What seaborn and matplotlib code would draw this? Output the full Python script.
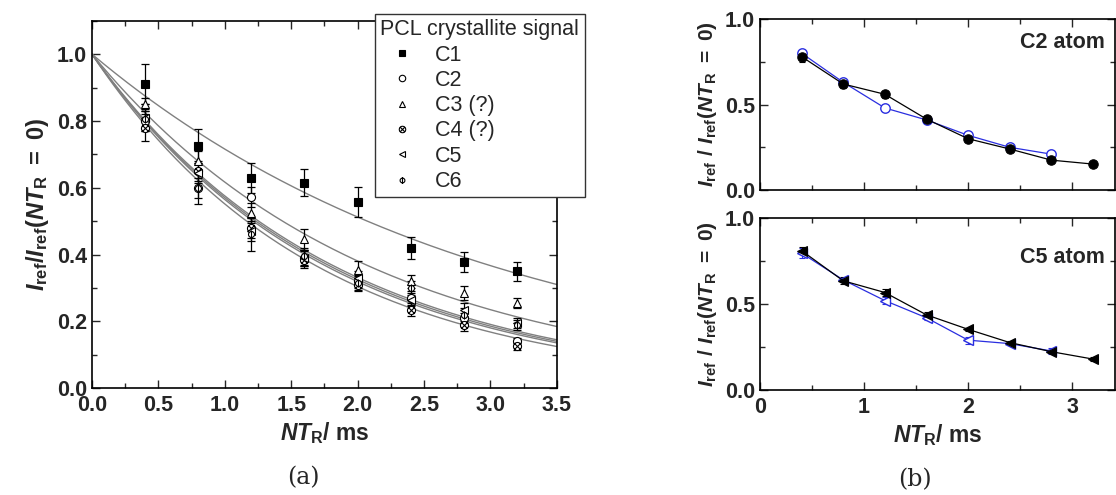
import numpy as np
import pandas as pd
import matplotlib
matplotlib.use('Agg')
import matplotlib.pyplot as plt
from matplotlib.path import Path
from matplotlib.ticker import MultipleLocator
import seaborn as sns

# ---- data ----
nt = [0.4, 0.8, 1.2, 1.6, 2.0, 2.4, 2.8, 3.2]

# panel (a): PCL crystallite signals
c1 = [0.91, 0.725, 0.628, 0.615, 0.556, 0.42, 0.377, 0.35]
c2 = [0.80, 0.60, 0.572, 0.39, 0.32, 0.27, 0.21, 0.14]
c3 = [0.85, 0.68, 0.525, 0.445, 0.355, 0.32, 0.285, 0.255]
c4 = [0.78, 0.65, 0.48, 0.385, 0.31, 0.235, 0.19, 0.125]
c5 = [0.81, 0.645, 0.47, 0.39, 0.33, 0.265, 0.235, 0.195]
c6 = [0.805, 0.60, 0.46, 0.395, 0.315, 0.30, 0.22, 0.19]
c1_err = [0.06, 0.05, 0.045, 0.04, 0.045, 0.033, 0.03, 0.028]
c2_err = [0.03, 0.03, 0.03, 0.025, 0.02, 0.02, 0.015, 0.01]
c3_err = [0.02, 0.03, 0.03, 0.03, 0.025, 0.02, 0.02, 0.015]
c4_err = [0.04, 0.03, 0.03, 0.025, 0.02, 0.02, 0.02, 0.01]
c5_err = [0.04, 0.03, 0.03, 0.025, 0.02, 0.02, 0.02, 0.015]
c6_err = [0.03, 0.05, 0.05, 0.025, 0.02, 0.02, 0.02, 0.015]
# decay constants of the grey fit curves (ms)
fit_tau = [2.99, 1.75, 2.07, 1.68, 1.78, 1.81]
labels_a = ['C1', 'C2', 'C3 (?)', 'C4 (?)', 'C5', 'C6']

# panel (b): single atoms, two samples
c2_black = [0.78, 0.62, 0.56, 0.415, 0.30, 0.24, 0.175, 0.152]
c2_black_err = [0.03, 0.025, 0.02, 0.015, 0.015, 0.01, 0.01, 0.01]
c2_blue = [0.80, 0.63, 0.48, 0.41, 0.32, 0.25, 0.21]
c2_blue_err = [0.015, 0.01, 0.015, 0.01, 0.01, 0.01, 0.01]
c5_black = [0.81, 0.635, 0.567, 0.437, 0.353, 0.276, 0.223, 0.18]
c5_black_err = [0.02, 0.02, 0.02, 0.015, 0.01, 0.01, 0.01, 0.01]
c5_blue = [0.796, 0.64, 0.52, 0.42, 0.29, 0.27, 0.227]
c5_blue_err = [0.03, 0.01, 0.02, 0.01, 0.02, 0.01, 0.015]

# ---- style ----
sns.set_style('ticks')
plt.rcParams['font.family'] = ['Liberation Sans', 'DejaVu Sans']
plt.rcParams['mathtext.fontset'] = 'custom'
plt.rcParams['mathtext.it'] = 'Liberation Sans:bold:italic'
plt.rcParams['mathtext.rm'] = 'Liberation Sans:bold'
plt.rcParams['mathtext.bf'] = 'Liberation Sans:bold'

BLUE = '#2a2ee0'
GREY = '#808080'
TICK_FS = 15.5

# custom markers: crossed circle, circle with a vertical bar
m_cross = Path.make_compound_path(
    Path.unit_circle(),
    Path([(-0.75, -0.75), (0.75, 0.75)]),
    Path([(-0.75, 0.75), (0.75, -0.75)]))
m_phi = Path.make_compound_path(
    Path.unit_circle(),
    Path([(0, -1.35), (0, 1.35)]))

fig = plt.figure(figsize=(11.16, 4.95), dpi=100)
ax = fig.add_axes([0.0824, 0.216, 0.4166, 0.742])
axb1 = fig.add_axes([0.681, 0.616, 0.318, 0.3456])
axb2 = fig.add_axes([0.681, 0.212, 0.318, 0.3476])


def style_axes(a):
    a.tick_params(which='both', direction='in', top=True, right=True,
                  width=1.0, labelsize=TICK_FS)
    a.tick_params(which='major', length=6)
    a.tick_params(which='minor', length=3.5)
    a.tick_params(axis='x', pad=5)
    for lab in a.get_xticklabels() + a.get_yticklabels():
        lab.set_fontweight('bold')
    for sp in a.spines.values():
        sp.set_linewidth(1.2)
        sp.set_color('black')


# ---- panel (a) ----
series = [c1, c2, c3, c4, c5, c6]
errs = [c1_err, c2_err, c3_err, c4_err, c5_err, c6_err]
markers = ['s', 'o', '^', m_cross, '<', m_phi]
filled = [True, False, False, False, False, False]

t_fit = np.linspace(0, 3.5, 200)
for tau in fit_tau:
    sns.lineplot(x=t_fit, y=np.exp(-t_fit / tau), color=GREY, lw=1.0, ax=ax)

handles = []
for y, e, m, f, lab in zip(series, errs, markers, filled, labels_a):
    ax.errorbar(nt, y, yerr=e, fmt='none', ecolor='black', elinewidth=0.9,
                capsize=3, capthick=0.9, zorder=3)
    sns.lineplot(x=nt, y=y, marker=m, linestyle='', color='black',
                 markersize=5.8, markeredgecolor='black', markeredgewidth=0.8,
                 markerfacecolor='black' if f else 'white', ax=ax, zorder=4)
    handles.append(ax.lines[-1])

ax.set_xticks([0, 0.5, 1.0, 1.5, 2.0, 2.5, 3.0, 3.5])
ax.set_xticklabels(['0.0', '0.5', '1.0', '1.5', '2.0', '2.5', '3.0', '3.5'])
ax.set_yticks([0, 0.2, 0.4, 0.6, 0.8, 1.0])
ax.set_yticklabels(['0.0', '0.2', '0.4', '0.6', '0.8', '1.0'])
ax.xaxis.set_minor_locator(MultipleLocator(0.25))
ax.yaxis.set_minor_locator(MultipleLocator(0.1))
ax.set_xlim(0, 3.5)
ax.set_ylim(0, 1.1)
style_axes(ax)
ax.set_xlabel(r'$NT_{\mathrm{R}}$/ ms', fontsize=16.5, fontweight='bold', labelpad=3)
ax.set_ylabel(r'$I_{\mathrm{ref}}/I_{\mathrm{ref}}(NT_{\mathrm{R}}\ \mathrm{=\ 0})$',
              fontsize=17, labelpad=4)

leg = fig.legend(handles, labels_a, title='PCL crystallite signal',
                 loc='upper left', bbox_to_anchor=(0.336, 0.972),
                 fontsize=15.5, title_fontsize=15.5, frameon=True, fancybox=False,
                 edgecolor='#333333', framealpha=1, borderpad=0.25,
                 borderaxespad=0, handlelength=2.0, handletextpad=0.55,
                 labelspacing=0.2, markerscale=0.8, alignment='left')
leg.get_frame().set_linewidth(1.0)

# ---- panel (b) ----
def atom_panel(a, yb, eb, yl, el, mk, name, ypos):
    a.errorbar(nt[:len(yl)], yl, yerr=el, fmt='none', ecolor=BLUE,
               elinewidth=0.8, capsize=2.5, capthick=0.8, zorder=3)
    a.errorbar(nt, yb, yerr=eb, fmt='none', ecolor='black',
               elinewidth=0.8, capsize=2.5, capthick=0.8, zorder=3)
    sns.lineplot(x=nt[:len(yl)], y=yl, color=BLUE, lw=0.9, marker=mk,
                 markersize=6.8, markerfacecolor='white', markeredgecolor=BLUE,
                 markeredgewidth=1.0, ax=a, zorder=4)
    sns.lineplot(x=nt, y=yb, color='black', lw=0.9, marker=mk,
                 markersize=6.8, markerfacecolor='black', markeredgecolor='black',
                 ax=a, zorder=5)
    a.set_xticks([0, 1, 2, 3])
    a.set_xticklabels(['0', '1', '2', '3'])
    a.xaxis.set_minor_locator(MultipleLocator(0.5))
    a.set_yticks([0, 0.5, 1.0])
    a.set_yticklabels(['0.0', '0.5', '1.0'])
    a.yaxis.set_minor_locator(MultipleLocator(0.25))
    a.set_xlim(0, 3.41)
    a.set_ylim(0, 1.0)
    style_axes(a)
    a.set_ylabel(r'$I_{\mathrm{ref}}\ /\ I_{\mathrm{ref}}(NT_{\mathrm{R}}\ \mathrm{=\ 0})$',
                 fontsize=15, labelpad=4)
    a.text(0.972, ypos, name, transform=a.transAxes, ha='right', va='center',
           fontsize=15.5, fontweight='bold')


atom_panel(axb1, c2_black, c2_black_err, c2_blue, c2_blue_err, 'o', 'C2 atom', 0.86)
atom_panel(axb2, c5_black, c5_black_err, c5_blue, c5_blue_err, '<', 'C5 atom', 0.77)
axb1.tick_params(labelbottom=False)
axb1.set_xlabel('')
axb2.set_xlabel(r'$NT_{\mathrm{R}}$/ ms', fontsize=16.5, fontweight='bold', labelpad=3)

fig.text(0.272, 0.035, '(a)', fontsize=17, family='DejaVu Serif', ha='center', va='center')
fig.text(0.82, 0.03, '(b)', fontsize=17, family='DejaVu Serif', ha='center', va='center')

fig.savefig('out.png', dpi=100)
